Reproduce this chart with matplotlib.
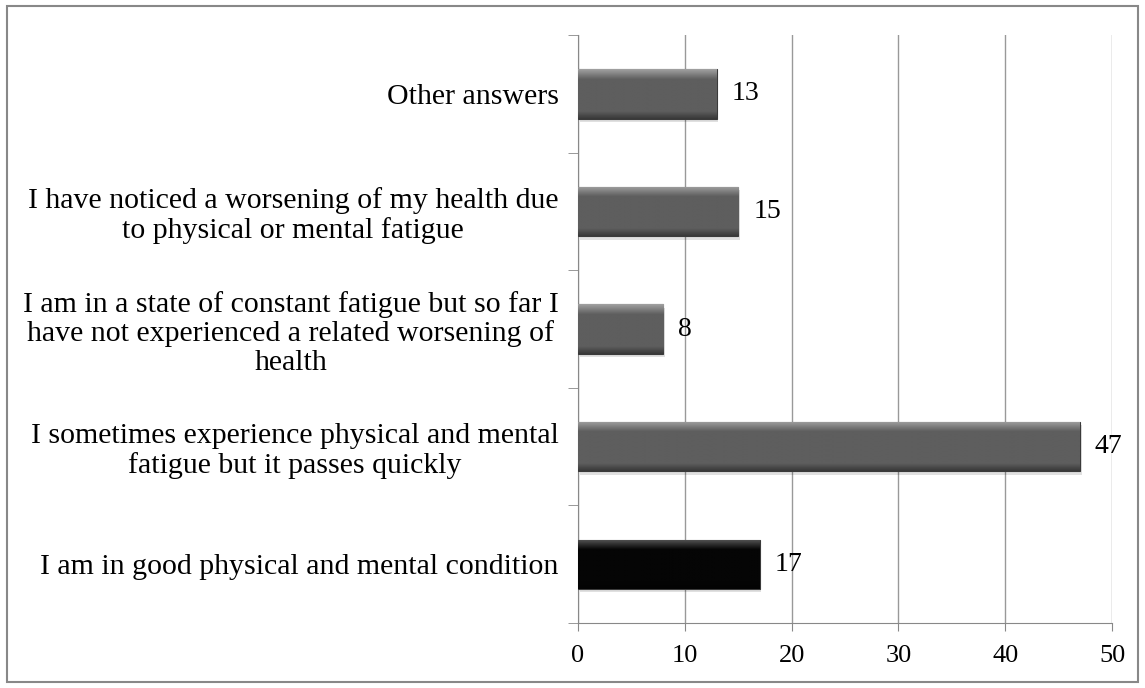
import matplotlib.pyplot as plt
from matplotlib.patches import Rectangle
from matplotlib.colors import to_rgb
import numpy as np

categories = [
    "I am in good physical and mental condition",
    "I sometimes experience physical and mental\nfatigue but it passes quickly",
    "I am in a state of constant fatigue but so far I\nhave not experienced a related worsening of\nhealth",
    "I have noticed a worsening of my health due\nto physical or mental fatigue",
    "Other answers",
]
values = [17, 47, 8, 15, 13]
colors = ["#050505", "#5e5e5e", "#5e5e5e", "#5e5e5e", "#5e5e5e"]
xticks = [0, 10, 20, 30, 40, 50]

plt.rcParams['font.family'] = ['Liberation Serif', 'DejaVu Serif']

fig = plt.figure(figsize=(11.45, 6.88), dpi=100)
ax = fig.add_axes([0.5048, 0.0945, 0.4664, 0.8545])

y = np.arange(len(categories))
bars = ax.barh(y, values, height=0.42, color=colors, edgecolor="#3a3a3a",
               linewidth=0.8, zorder=3)


def bevel(c, n=60):
    # vertical shading: light rim on top, dark rim at bottom
    base = np.array(to_rgb(c))
    t = np.linspace(0, 1, n)  # 0 = top, 1 = bottom
    k = np.ones(n)
    hi = t < 0.2
    k[hi] = 1 + 0.7 * (1 - t[hi] / 0.2)
    lo = t > 0.85
    k[lo] = 1 - 0.4 * ((t[lo] - 0.85) / 0.15)
    add = (0.3 if c == "#050505" else 0) * (hi * (1 - t / 0.2))
    col = np.clip(base[None, :] * k[:, None] + add[:, None], 0, 1)
    return col[:, None, :]


for b, c in zip(bars, colors):
    x0, y0 = b.get_x(), b.get_y()
    w, h = b.get_width(), b.get_height()
    # soft shadow
    ax.add_patch(Rectangle((x0 + 0.15, y0 - 0.03), w, h, color="#000000",
                           alpha=0.12, lw=0, zorder=2))
    im = ax.imshow(bevel(c), extent=(x0, x0 + w, y0, y0 + h), aspect="auto",
                   zorder=3.5, interpolation="bilinear")
    im.set_clip_path(b)

for yi, v in zip(y, values):
    ax.text(v + 1.4, yi, str(v), va="center", ha="left", fontsize=20, zorder=5)

ax.set_xlim(0, 50)
ax.set_ylim(-0.5, 4.5)
ax.set_xticks(xticks)
ax.set_yticks(y)
ax.set_yticklabels(categories, multialignment="center", linespacing=1.12)
ax.set_yticks(np.arange(-0.5, 5, 1), minor=True)
ax.tick_params(axis="y", which="major", length=0, pad=14, labelsize=21.5)
ax.tick_params(axis="y", which="minor", length=7, color="#888888", direction="out")
ax.tick_params(axis="x", length=6, color="#888888", direction="out", labelsize=19, pad=10)

ax.grid(axis="x", color="#999999", linewidth=1.0, zorder=0)
for s in ["top", "right"]:
    ax.spines[s].set_visible(False)
for s in ["left", "bottom"]:
    ax.spines[s].set_color("#888888")

fig.patches.append(Rectangle((0.006, 0.008), 0.988, 0.984, transform=fig.transFigure,
                             fill=False, edgecolor="#888888", linewidth=1.5))

fig.savefig("out.png", dpi=100)
